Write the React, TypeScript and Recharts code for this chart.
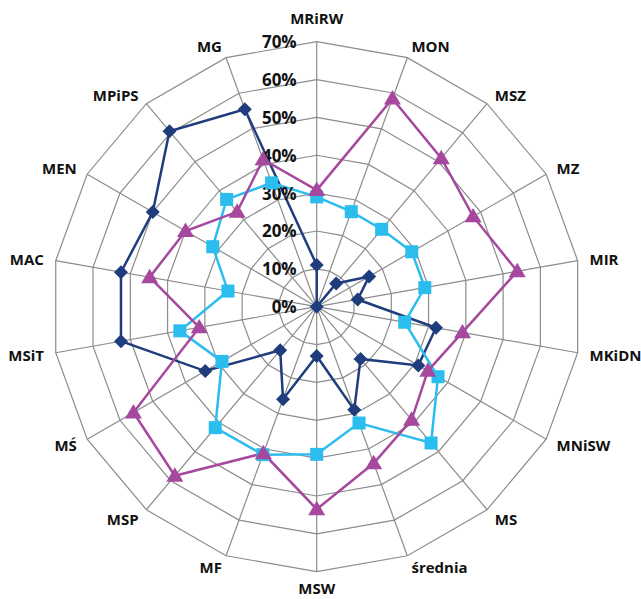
import React from 'react';
import { RadarChart, Radar, PolarGrid, PolarAngleAxis, PolarRadiusAxis } from 'recharts';

const categories = ['MRiRW', 'MON', 'MSZ', 'MZ', 'MIR', 'MKiDN', 'MNiSW', 'MS', 'średnia', 'MSW', 'MF', 'MSP', 'MŚ', 'MSiT', 'MAC', 'MEN', 'MPiPS', 'MG'];
const seriesNavy = [11, 0, 8, 16, 11, 32, 31, 18, 29, 13, 26, 15, 34, 52.5, 52.5, 50, 60.5, 55.5];
const seriesCyan = [29, 26.7, 26.7, 29, 29, 23.6, 37, 47, 32.7, 39, 41.6, 41.7, 28.9, 36.7, 23.8, 31.7, 37, 34.8];
const seriesPurple = [30.8, 58.5, 51.2, 47.7, 53.8, 39.1, 33.9, 39, 44, 53.5, 41.2, 58.3, 55.9, 31.5, 44.8, 40, 32.7, 41.4];
const radiusTicks = [0, 10, 20, 30, 40, 50, 60, 70];

const data = categories.map((c, i) => ({
  name: c,
  navy: seriesNavy[i],
  cyan: seriesCyan[i],
  purple: seriesPurple[i],
}));

const W = 641;
const H = 599;
const CX = 316.7;
const CY = 306.7;
const R = 265;
const NAVY = '#1F3C7D';
const CYAN = '#2BBDEE';
const PURPLE = '#A5489E';
const FONT = '"Open Sans", sans-serif';

const AngleTick = (props: any) => {
  const { x, y, payload } = props;
  const dx = x - CX;
  const dy = y - CY;
  const len = Math.sqrt(dx * dx + dy * dy) || 1;
  const ux = dx / len;
  const uy = dy / len;
  let off = 12;
  if (Math.abs(ux) < 0.05) off = uy < 0 ? 24 : 16;
  const tx = CX + ux * (R + off);
  const ty = CY + uy * (R + off);
  const anchor = ux > 0.05 ? 'start' : ux < -0.05 ? 'end' : 'middle';
  return (
    <text x={tx} y={ty} textAnchor={anchor} dominantBaseline="central" fontFamily={FONT} fontWeight={700} fontSize={15} fill="#111">
      {payload.value}
    </text>
  );
};

const RadiusTick = (props: any) => {
  const { x, y, payload } = props;
  return (
    <text x={x - 20} y={y} textAnchor="end" dominantBaseline="central" fontFamily={FONT} fontWeight={700} fontSize={17} fill="#111">
      {Math.round(payload.value) + '%'}
    </text>
  );
};

const Diamond = (props: any) => {
  const { cx, cy, index } = props;
  const s = 7;
  return <path key={'d' + index} d={`M${cx},${cy - s}L${cx + s},${cy}L${cx},${cy + s}L${cx - s},${cy}Z`} fill={NAVY} />;
};
const Square = (props: any) => {
  const { cx, cy, index } = props;
  const s = 6.5;
  return <rect key={'s' + index} x={cx - s} y={cy - s} width={2 * s} height={2 * s} fill={CYAN} />;
};
const Triangle = (props: any) => {
  const { cx, cy, index } = props;
  const s = 8.5;
  return <path key={'t' + index} d={`M${cx},${cy - s}L${cx + s},${cy + s * 0.7}L${cx - s},${cy + s * 0.7}Z`} fill={PURPLE} />;
};

export default function App() {
  return (
    <div style={{ position: 'absolute', left: 0, top: 0, width: W, height: H, background: '#fff' }}>
      <RadarChart width={W} height={H} data={data} cx={CX} cy={CY} outerRadius={R} margin={{ top: 0, right: 0, bottom: 0, left: 0 }}>
        <PolarGrid gridType="polygon" stroke="#8C8C8C" strokeWidth={1.2} />
        <PolarAngleAxis dataKey="name" tick={AngleTick} tickLine={false} axisLine={false} />
        <PolarRadiusAxis angle={90} type="number" domain={[0, 70]} allowDataOverflow={true} tickCount={8} ticks={radiusTicks} tick={RadiusTick} axisLine={false} tickLine={false} />
        <Radar dataKey="navy" stroke={NAVY} strokeWidth={2.5} fill="none" fillOpacity={0} dot={Diamond} isAnimationActive={false} />
        <Radar dataKey="cyan" stroke={CYAN} strokeWidth={2.5} fill="none" fillOpacity={0} dot={Square} isAnimationActive={false} />
        <Radar dataKey="purple" stroke={PURPLE} strokeWidth={2.5} fill="none" fillOpacity={0} dot={Triangle} isAnimationActive={false} />
      </RadarChart>
    </div>
  );
}
